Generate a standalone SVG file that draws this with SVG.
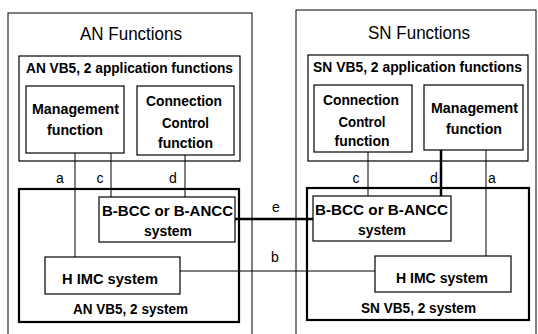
<svg xmlns="http://www.w3.org/2000/svg" width="538" height="334" viewBox="0 0 538 334">
<style>
.box{fill:none;stroke:#000;stroke-width:1.2}
.sys{fill:none;stroke:#000;stroke-width:2.2}
.ln{fill:none;stroke:#000;stroke-width:1}
.thick{fill:none;stroke:#000;stroke-width:2.5}
text{font-family:"Liberation Sans Narrow","Liberation Sans",Arial,sans-serif;fill:#000;text-anchor:middle}
.t1{font-size:18px}
.t2{font-size:14px;font-weight:bold}
.t3{font-size:14px;font-weight:bold}
.lb{font-size:14px}
</style>
<rect width="538" height="334" fill="#fff"/>
<g id="an-outer"><rect class="ln" x="8" y="13" width="244" height="340"/>
<text class="t1" x="131" y="40" textLength="102" lengthAdjust="spacingAndGlyphs">AN Functions</text></g>
<g id="sn-outer"><rect class="ln" x="296" y="10" width="240" height="340"/>
<text class="t1" x="419" y="39" textLength="102" lengthAdjust="spacingAndGlyphs">SN Functions</text></g>
<g id="an-app"><rect class="box" x="19" y="56" width="221" height="105"/>
<text class="t2" x="129.5" y="73" textLength="207" lengthAdjust="spacingAndGlyphs">AN VB5, 2 application functions</text></g>
<g id="sn-app"><rect class="box" x="308" y="55" width="220" height="106"/>
<text class="t2" x="417.5" y="72" textLength="209" lengthAdjust="spacingAndGlyphs">SN VB5, 2 application functions</text></g>
<g id="an-mgmt"><rect class="box" x="26" y="86" width="98" height="67"/>
<text class="t3" x="75.5" y="114" textLength="87" lengthAdjust="spacingAndGlyphs">Management</text>
<text class="t3" x="75" y="135" textLength="56" lengthAdjust="spacingAndGlyphs">function</text></g>
<g id="an-cc"><rect class="box" x="137" y="86" width="97" height="69"/>
<text class="t3" x="184" y="106" textLength="76" lengthAdjust="spacingAndGlyphs">Connection</text>
<text class="t3" x="185.5" y="128" textLength="47" lengthAdjust="spacingAndGlyphs">Control</text>
<text class="t3" x="185.5" y="148" textLength="55" lengthAdjust="spacingAndGlyphs">function</text></g>
<g id="sn-cc"><rect class="box" x="314" y="85" width="98" height="67"/>
<text class="t3" x="361" y="105" textLength="76" lengthAdjust="spacingAndGlyphs">Connection</text>
<text class="t3" x="362" y="127" textLength="47" lengthAdjust="spacingAndGlyphs">Control</text>
<text class="t3" x="362" y="146" textLength="55" lengthAdjust="spacingAndGlyphs">function</text></g>
<g id="sn-mgmt"><rect class="box" x="424" y="85" width="99" height="65"/>
<text class="t3" x="474.5" y="113" textLength="87" lengthAdjust="spacingAndGlyphs">Management</text>
<text class="t3" x="474" y="134" textLength="56" lengthAdjust="spacingAndGlyphs">function</text></g>
<g id="an-sys"><rect class="sys" x="19" y="189" width="220" height="133"/>
<text class="t3" x="130.5" y="314" textLength="115" lengthAdjust="spacingAndGlyphs">AN VB5, 2 system</text></g>
<g id="sn-sys"><rect class="sys" x="307" y="188" width="222" height="132"/>
<text class="t3" x="418.5" y="313" textLength="115" lengthAdjust="spacingAndGlyphs">SN VB5, 2 system</text></g>
<g id="an-bbcc"><rect class="box" x="99" y="197" width="136" height="45"/>
<text class="t3" x="167.5" y="216" textLength="131" lengthAdjust="spacingAndGlyphs">B-BCC or B-ANCC</text>
<text class="t3" x="168" y="236" textLength="48" lengthAdjust="spacingAndGlyphs">system</text></g>
<g id="sn-bbcc"><rect class="box" x="313" y="196" width="138" height="45"/>
<text class="t3" x="381.5" y="215" textLength="133" lengthAdjust="spacingAndGlyphs">B-BCC or B-ANCC</text>
<text class="t3" x="382" y="235" textLength="48" lengthAdjust="spacingAndGlyphs">system</text></g>
<g id="an-himc"><rect class="box" x="45" y="257" width="135" height="37"/>
<text class="t3" x="110" y="284" textLength="96" lengthAdjust="spacingAndGlyphs">H IMC system</text></g>
<g id="sn-himc"><rect class="box" x="375" y="256" width="136" height="36"/>
<text class="t3" x="442" y="283" textLength="92" lengthAdjust="spacingAndGlyphs">H IMC system</text></g>
<g id="connectors">
<path class="ln" d="M75 153V257M111 153V197M185 155V197"/>
<path class="ln" d="M368 152V196M486 150V256"/>
<path class="thick" d="M441 150V196"/>
<path class="thick" d="M235 219H313"/>
<path class="ln" d="M180 271H375"/>
<text class="lb" x="60" y="183">a</text>
<text class="lb" x="100" y="183">c</text>
<text class="lb" x="173" y="183">d</text>
<text class="lb" x="356" y="183">c</text>
<text class="lb" x="434" y="183">d</text>
<text class="lb" x="492" y="183">a</text>
<text class="lb" x="276" y="212">e</text>
<text class="lb" x="275" y="262">b</text>
</g>
</svg>
